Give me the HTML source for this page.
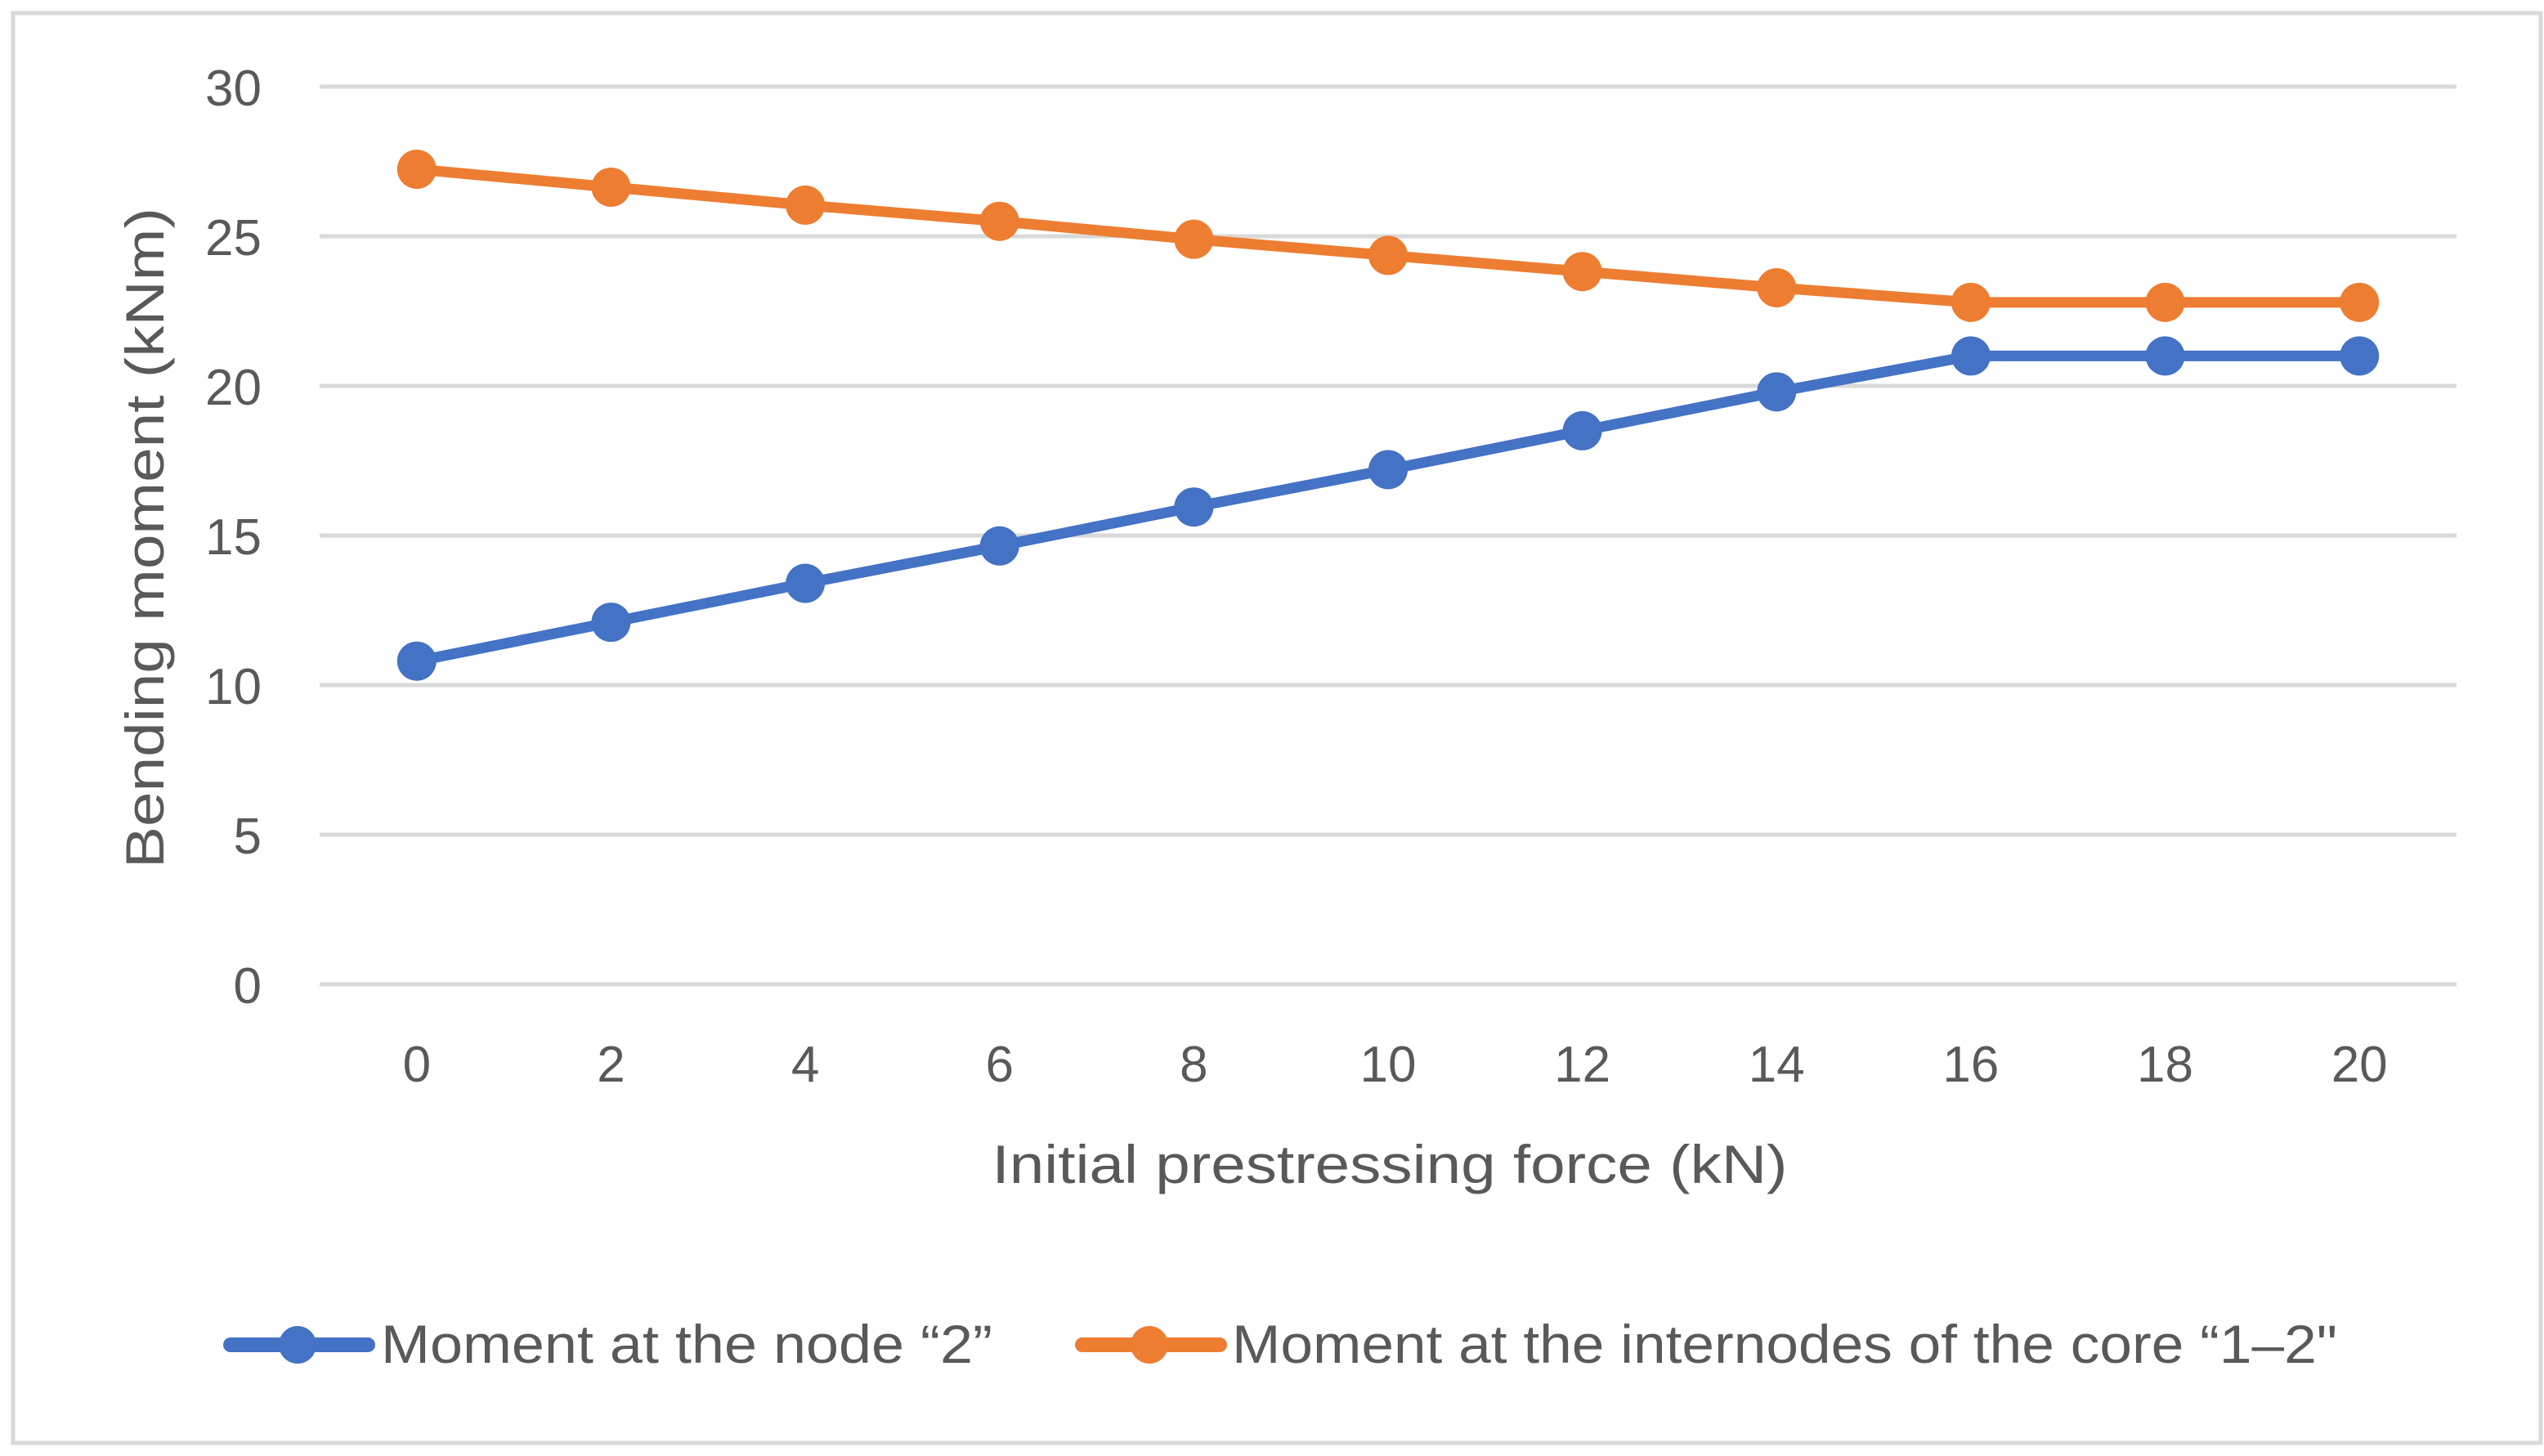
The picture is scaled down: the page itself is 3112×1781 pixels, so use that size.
<!DOCTYPE html>
<html><head><meta charset="utf-8"><style>
html,body{margin:0;padding:0;background:#fff}
svg{display:block}
text{font-family:"Liberation Sans",sans-serif;fill:#595959}
</style></head><body>
<svg id="chart" width="3112" height="1781" viewBox="0 0 3112 1781" xmlns="http://www.w3.org/2000/svg">
<rect x="16" y="16" width="3092" height="1749" fill="#fff" stroke="#d9d9d9" stroke-width="5"/>
<g id="grid"></g>
<g id="yticks"></g>
<g id="xticks"></g>
<g id="series"></g>
<text transform="translate(200,658) rotate(-90)" text-anchor="middle" font-size="66" textLength="808" lengthAdjust="spacingAndGlyphs">Bending moment (kNm)</text>
<text x="1700" y="1447" text-anchor="middle" font-size="66" textLength="973" lengthAdjust="spacingAndGlyphs">Initial prestressing force (kN)</text>
<g>
<g>
<line x1="282" y1="1645" x2="450" y2="1645" stroke="#4472c4" stroke-width="18" stroke-linecap="round"/>
<circle cx="364" cy="1645" r="23" fill="#4472c4"/>
<text x="466" y="1667" font-size="66" textLength="748" lengthAdjust="spacingAndGlyphs">Moment at the node “2”</text>
</g>
<g>
<line x1="1324" y1="1645" x2="1492" y2="1645" stroke="#ed7d31" stroke-width="18" stroke-linecap="round"/>
<circle cx="1406" cy="1645" r="23" fill="#ed7d31"/>
<text x="1507" y="1667" font-size="66" textLength="1352" lengthAdjust="spacingAndGlyphs">Moment at the internodes of the core “1–2"</text>
</g>
</g>
</svg>
<script>
const categories = [0,2,4,6,8,10,12,14,16,18,20];
const nodeMoment = [10.8,12.1,13.4,14.65,15.95,17.2,18.5,19.8,21.0,21.0,21.0];
const internodeMoment = [27.24,26.64,26.04,25.5,24.9,24.36,23.82,23.28,22.79,22.79,22.79];
const yTicks = [0,5,10,15,20,25,30];

const NS = "http://www.w3.org/2000/svg";
const plotL = 391, plotR = 3005, y0px = 1204, y30px = 106;
const band = (plotR - plotL) / categories.length;
function xPos(i){ return plotL + band * (i + 0.5); }
function yPos(v){ return y0px - (v - 0) / 30 * (y0px - y30px); }
function mk(tag, attrs, parent){ const e = document.createElementNS(NS, tag); for (const k in attrs) e.setAttribute(k, attrs[k]); parent.appendChild(e); return e; }

const grid = document.getElementById('grid');
const yt = document.getElementById('yticks');
yTicks.forEach(t => {
  const l = mk('line', {x1: plotL, x2: plotR, y1: yPos(t), y2: yPos(t), stroke: '#d9d9d9', 'stroke-width': 5}, grid);
  
  
  const tx = mk('text', {x: 320, y: yPos(t) + 23, 'text-anchor': 'end', 'font-size': 62}, yt);
  tx.textContent = t;
  
  
});
const xt = document.getElementById('xticks');
categories.forEach((c, i) => {
  const tx = mk('text', {x: xPos(i), y: 1323, 'text-anchor': 'middle', 'font-size': 62}, xt);
  tx.textContent = c;
  
  
});
const sg = document.getElementById('series');
function drawSeries(vals, color, name){
  const g = mk('g', {}, sg);
  
  
  const pts = vals.map((v, i) => xPos(i) + ',' + yPos(v)).join(' ');
  const pl = mk('polyline', {points: pts, fill: 'none', stroke: color, 'stroke-width': 13, 'stroke-linejoin': 'round'}, g);
  
  
  vals.forEach((v, i) => {
    const c = mk('circle', {cx: xPos(i), cy: yPos(v), r: 24, fill: color}, g);
    
    
  });
}
drawSeries(nodeMoment, '#4472c4', 'node-2-series');
drawSeries(internodeMoment, '#ed7d31', 'internodes-series');
</script>
</body></html>
